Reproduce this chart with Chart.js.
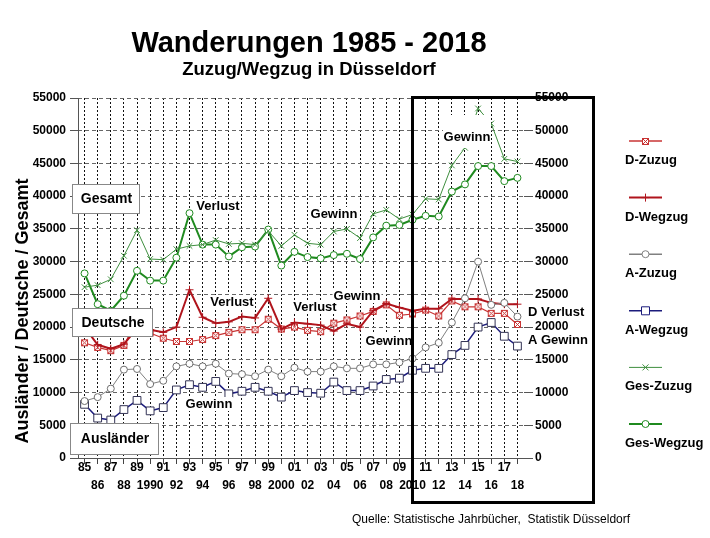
<!DOCTYPE html>
<html>
<head>
<meta charset="utf-8">
<script src="https://cdn.jsdelivr.net/npm/chart.js@4.4.1/dist/chart.umd.min.js"></script>
<style>
html,body{margin:0;padding:0;background:#fff;}
canvas{display:block;}
</style>
</head>
<body>
<canvas id="c" width="710" height="538"></canvas>
<script>
// ---------- data ----------
const years = ['85','86','87','88','89','1990','91','92','93','94','95','96','97','98','99','2000',
  '01','02','03','04','05','06','07','08','09','2010','11','12','13','14','15','16','17','18'];
const yMin = 0, yMax = 55000, yStep = 5000;

const dZuzug   = [17600,16900,16400,17200,21200,19100,18300,17800,17800,18100,18700,19200,19600,19600,21200,19700,20000,
                  19500,19300,20600,21100,21700,22400,23400,21800,22000,22600,21700,24000,23100,23100,22100,22100,20400];
const dWegzug  = [20000,17300,16700,17400,19800,19600,19200,20000,25700,21500,20600,20800,21600,21400,24400,19700,20700,
                  20500,20300,19400,20500,20000,22500,23600,23000,22500,22800,22800,24300,24300,24300,23700,23500,23500];
const aZuzug   = [8700,9300,10600,13500,13600,11300,11800,14000,14400,14000,14400,12900,12800,12500,13500,12500,13800,
                  13200,13200,14000,13700,13700,14300,14300,14600,15200,16900,17600,20700,24400,30000,23400,23700,21600];
const aWegzug  = [8200,6100,5800,7400,8800,7200,7700,10400,11200,10800,11700,9800,10200,10800,10200,9300,10300,
                  10000,9900,11600,10300,10300,11000,12000,12200,13400,13700,13700,15800,17200,20000,20700,18600,17100];
const gesZuzug = [26100,26400,27300,30900,34800,30400,30300,31900,32400,32600,33300,32700,32800,32600,34700,32400,34100,
                  32800,32600,34600,35000,33600,37300,37900,36500,37200,39600,39500,44700,47400,53400,51100,45700,45300];
const gesWegzug= [28200,23500,22500,24800,28600,27100,27100,30600,37400,32600,32600,30800,32200,32300,34900,29400,31500,
                  30700,30500,31000,31200,30400,33700,35500,35600,36400,37000,36900,40700,41800,44600,44600,42300,42800];

const seriesNames = ['D-Zuzug','D-Wegzug','A-Zuzug','A-Wegzug','Ges-Zuzug','Ges-Wegzug'];

// ---------- styles ----------
const FONT = 'Arial, "Liberation Sans", Helvetica, sans-serif';
const C_DZ = '#c83434', C_DW = '#b0141c', C_AZ = '#808080', C_AW = '#1c1c7c', C_GZ = '#3f8f3f', C_GW = '#1f8a1f';

function makeDMarker(){
  const c = document.createElement('canvas'); c.width = 9; c.height = 9;
  const g = c.getContext('2d');
  g.fillStyle = '#fff'; g.fillRect(1,1,7,7);
  g.strokeStyle = C_DZ; g.lineWidth = 1;
  g.strokeRect(1.5,1.5,6,6);
  g.beginPath(); g.moveTo(2,2); g.lineTo(7,7); g.moveTo(7,2); g.lineTo(2,7); g.stroke();
  return c;
}
const dMarker = makeDMarker();

function drawMarker(ctx, kind, x, y, color){
  ctx.save();
  ctx.strokeStyle = color; ctx.fillStyle = '#fff'; ctx.lineWidth = 1;
  ctx.beginPath();
  if (kind === 'dbox') { ctx.drawImage(dMarker, Math.round(x-4.5), Math.round(y-4.5)); ctx.restore(); return; }
  if (kind === 'cross') { ctx.moveTo(x, y-4); ctx.lineTo(x, y+4); ctx.moveTo(x-4,y); ctx.lineTo(x+4,y); ctx.stroke(); }
  if (kind === 'crossRot') { ctx.moveTo(x-3,y-3); ctx.lineTo(x+3,y+3); ctx.moveTo(x+3,y-3); ctx.lineTo(x-3,y+3); ctx.stroke(); }
  if (kind === 'circle') { ctx.arc(x,y,3.5,0,Math.PI*2); ctx.fill(); ctx.stroke(); }
  if (kind === 'rect') { ctx.rect(x-4,y-4,8,8); ctx.fill(); ctx.stroke(); }
  ctx.restore();
}

const legendItems = [
  {name: seriesNames[0], color: C_DZ, kind:'dbox', w:1.5},
  {name: seriesNames[1], color: C_DW, kind:'cross', w:2},
  {name: seriesNames[2], color: C_AZ, kind:'circle', w:1.5},
  {name: seriesNames[3], color: C_AW, kind:'rect', w:1.5},
  {name: seriesNames[4], color: C_GZ, kind:'crossRot', w:1},
  {name: seriesNames[5], color: C_GW, kind:'circle', w:2}
];

const notes = [
  ['Verlust', 218, 210, 'center'],
  ['Gewinn', 334, 218, 'center'],
  ['Verlust', 232, 306, 'center'],
  ['Verlust', 315, 311, 'center'],
  ['Gewinn', 357, 300, 'center'],
  ['Gewinn', 389, 345, 'center'],
  ['Gewinn', 209, 408, 'center'],
  ['D Verlust', 528, 316, 'left'],
  ['A Gewinn', 528, 344, 'left']
];
const boxes = [
  ['Gesamt', 72, 184, 67, 29],
  ['Deutsche', 72, 308, 80, 28],
  ['Ausländer', 70, 423, 88, 31]
];

const deco = {
  id: 'deco',
  beforeDraw(chart){
    const ctx = chart.ctx;
    ctx.save(); ctx.fillStyle = '#fff'; ctx.fillRect(0,0,chart.width,chart.height); ctx.restore();
  },
  afterDraw(chart){
    const ctx = chart.ctx, a = chart.chartArea;
    ctx.save();
    // axis lines
    ctx.strokeStyle = '#555'; ctx.lineWidth = 1; ctx.setLineDash([]);
    ctx.beginPath();
    ctx.moveTo(Math.round(a.left)+0.5, a.top); ctx.lineTo(Math.round(a.left)+0.5, a.bottom);
    ctx.moveTo(a.left, Math.round(a.bottom)+0.5); ctx.lineTo(a.right, Math.round(a.bottom)+0.5);
    ctx.stroke();

    // titles
    ctx.fillStyle = '#000'; ctx.textAlign = 'center'; ctx.textBaseline = 'alphabetic';
    ctx.font = 'bold 29px ' + FONT;
    ctx.fillText('Wanderungen 1985 - 2018', 309, 52);
    ctx.font = 'bold 18.5px ' + FONT;
    ctx.fillText('Zuzug/Wegzug in Düsseldorf', 309, 75);

    // y title
    ctx.save();
    ctx.translate(23, 311); ctx.rotate(-Math.PI/2);
    ctx.font = 'bold 18px ' + FONT; ctx.textBaseline = 'middle';
    ctx.fillText('Ausländer / Deutsche / Gesamt', 0, 0);
    ctx.restore();

    // white-backed "Gewinn" top right (hides line)
    ctx.fillStyle = '#fff';
    ctx.fillRect(443, 115, 48, 33);
    ctx.fillStyle = '#000';
    ctx.font = 'bold 13px ' + FONT; ctx.textAlign = 'center';
    ctx.fillText('Gewinn', 467, 141);

    // notes
    ctx.font = 'bold 13px ' + FONT;
    notes.forEach(n => {
      ctx.textAlign = n[3];
      const w = ctx.measureText(n[0]).width;
      const x0 = n[3] === 'center' ? n[1] - w/2 : n[1];
      ctx.fillStyle = '#fff';
      ctx.fillRect(x0 - 1, n[2] - 11, w + 2, 14);
      ctx.fillStyle = '#000';
      ctx.fillText(n[0], n[1], n[2]);
    });

    // boxes
    ctx.font = 'bold 14px ' + FONT; ctx.textAlign = 'center'; ctx.textBaseline = 'middle';
    boxes.forEach(b => {
      ctx.fillStyle = '#fff'; ctx.fillRect(b[1], b[2], b[3], b[4]);
      ctx.strokeStyle = '#888'; ctx.lineWidth = 1;
      ctx.strokeRect(b[1]+0.5, b[2]+0.5, b[3], b[4]);
      ctx.fillStyle = '#000';
      ctx.fillText(b[0], b[1] + b[3]/2 + 1, b[2] + b[4]/2 + 1);
    });

    // big frame
    ctx.strokeStyle = '#000'; ctx.lineWidth = 3;
    ctx.strokeRect(412.5, 97.5, 181, 405);

    // legend
    ctx.textAlign = 'left'; ctx.textBaseline = 'alphabetic';
    ctx.font = 'bold 13px ' + FONT;
    legendItems.forEach((it, i) => {
      const y = 141 + i * 56.6;
      ctx.strokeStyle = it.color; ctx.lineWidth = it.w;
      ctx.beginPath(); ctx.moveTo(629, y); ctx.lineTo(662, y); ctx.stroke();
      drawMarker(ctx, it.kind, 645.5, y, it.color);
      ctx.fillStyle = '#000';
      ctx.fillText(it.name, 625, y + 23);
    });

    // source
    ctx.font = '12px ' + FONT; ctx.fillStyle = '#000';
    ctx.fillText('Quelle: Statistische Jahrbücher,  Statistik Düsseldorf', 352, 523);
    ctx.restore();
  }
};

const tickFont = {family: FONT, size: 12, weight: 'bold', lineHeight: 1.5};
const plainNum = v => String(v);

new Chart(document.getElementById('c').getContext('2d'), {
  type: 'line',
  data: {
    labels: years,
    datasets: [
      {label: seriesNames[4], data: gesZuzug, borderColor: C_GZ, borderWidth: 1, pointStyle: 'crossRot', pointRadius: 4, pointBorderColor: C_GZ, pointBorderWidth: 1},
      {label: seriesNames[5], data: gesWegzug, borderColor: C_GW, borderWidth: 2, pointStyle: 'circle', pointRadius: 3.5, pointBackgroundColor: '#fff', pointBorderColor: C_GW, pointBorderWidth: 1},
      {label: seriesNames[2], data: aZuzug, borderColor: C_AZ, borderWidth: 1, pointStyle: 'circle', pointRadius: 3.5, pointBackgroundColor: '#fff', pointBorderColor: '#707070', pointBorderWidth: 1},
      {label: seriesNames[3], data: aWegzug, borderColor: C_AW, borderWidth: 1.5, pointStyle: 'rect', pointRadius: 5.5, pointBackgroundColor: '#fff', pointBorderColor: '#333355', pointBorderWidth: 1},
      {label: seriesNames[1], data: dWegzug, borderColor: C_DW, borderWidth: 2, pointStyle: 'cross', pointRadius: 4, pointBorderColor: C_DW, pointBorderWidth: 1},
      {label: seriesNames[0], data: dZuzug, borderColor: C_DZ, borderWidth: 1.2, pointStyle: dMarker, pointRadius: 4}
    ]
  },
  options: {
    responsive: false,
    animation: false,
    devicePixelRatio: 1,
    layout: {padding: {top: 98, left: 0, right: 0, bottom: 0}},
    elements: {line: {tension: 0, fill: false}},
    plugins: {legend: {display: false}, title: {display: false}, tooltip: {enabled: false}},
    scales: {
      x: {
        type: 'category', offset: true,
        grid: {offset: false, color: '#111', lineWidth: 1, tickLength: 6, tickColor: '#444', drawOnChartArea: true},
        border: {display: false, dash: [2, 2]},
        ticks: {
          autoSkip: false, maxRotation: 0, minRotation: 0, padding: -5, color: '#000', font: tickFont,
          callback: function(v, i){ const l = this.getLabelForValue(v); return i % 2 === 0 ? [l, ''] : ['', l]; }
        },
        afterFit(s){ s.height = 80; }
      },
      y: {
        position: 'left', min: yMin, max: yMax,
        ticks: {stepSize: yStep, maxTicksLimit: 20, padding: 4, color: '#000', font: tickFont, callback: plainNum},
        grid: {color: '#666', lineWidth: 1, tickLength: 8, tickColor: '#555'},
        border: {display: false, dash: [4, 3]},
        afterFit(s){ s.width = 78; }
      },
      y2: {
        position: 'right', min: yMin, max: yMax,
        ticks: {stepSize: yStep, maxTicksLimit: 20, padding: 2, color: '#000', font: tickFont, callback: plainNum},
        grid: {drawOnChartArea: false, tickLength: 9, tickColor: '#555'},
        border: {display: false},
        afterFit(s){ s.width = 186; }
      }
    }
  },
  plugins: [deco]
});
</script>
</body>
</html>
